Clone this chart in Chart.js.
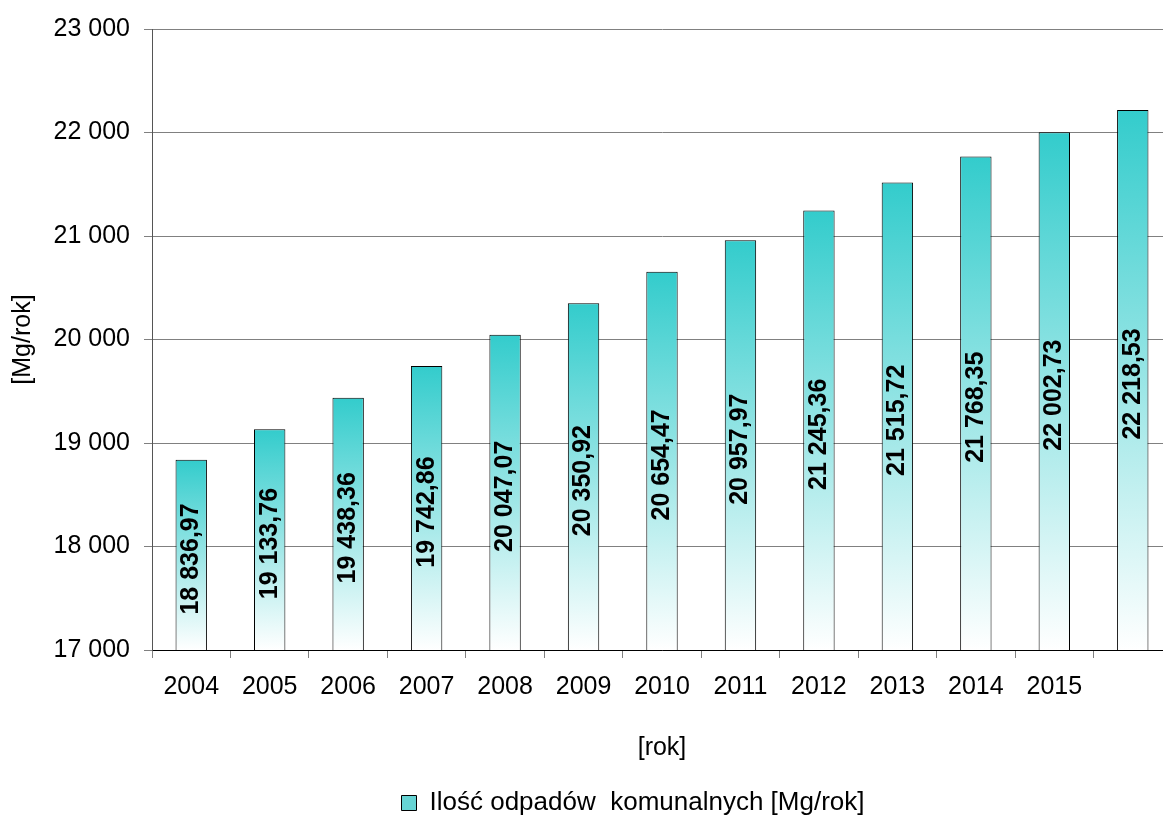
<!DOCTYPE html>
<html>
<head>
<meta charset="utf-8">
<script src="https://cdn.jsdelivr.net/npm/chart.js@4.4.0/dist/chart.umd.min.js"></script>
<style>
  html, body { margin: 0; padding: 0; background: #fff; overflow: hidden; }
  #wrap { width: 1266px; height: 827px; }
</style>
</head>
<body>
<div id="wrap"><canvas id="myChart" width="1266" height="827"></canvas></div>
<script>
// years on the x axis (last bar has no label in the original)
let years = ['2004', '2005', '2006', '2007', '2008', '2009', '2010', '2011', '2012', '2013', '2014', '2015', ''];
// amount of municipal waste [Mg/rok]
let wasteAmount = [18836.97, 19133.76, 19438.36, 19742.86, 20047.07, 20350.92, 20654.47, 20957.97, 21245.36, 21515.72, 21768.35, 22002.73, 22218.53];
let seriesName = 'Ilość odpadów  komunalnych [Mg/rok]';
let yMin = 17000;
let yMax = 23000;
let yStep = 1000;

const FONT = "'Liberation Sans', Arial, sans-serif";
Chart.defaults.font.family = FONT;
Chart.defaults.color = '#000';

//thousands with space, decimals with comma
function formatNumber(value, decimals) {
  let parts = Number(value).toFixed(decimals).split('.');
  let intPart = parts[0].replace(/\B(?=(\d{3})+(?!\d))/g, ' ');
  return parts.length > 1 ? intPart + ',' + parts[1] : intPart;
}

//gradient for each bar, teal at the top fading to white at the base
function barFill(context) {
  const chart = context.chart;
  const area = chart.chartArea;
  if (!area || context.raw === undefined) {
    return '#5fd3d3';
  }
  const top = chart.scales.y.getPixelForValue(context.raw);
  const g = chart.ctx.createLinearGradient(0, top, 0, area.bottom);
  g.addColorStop(0, '#33cccc');
  g.addColorStop(1, '#ffffff');
  return g;
}

//vertical value labels inside bars
const barLabels = {
  id: 'barLabels',
  afterDraw(chart) {
    const c = chart.ctx;
    const meta = chart.getDatasetMeta(0);
    const yScale = chart.scales.y;
    const basePx = yScale.getPixelForValue(yScale.min);
    c.save();
    c.font = 'bold 25px ' + FONT;
    c.fillStyle = '#000';
    c.textAlign = 'center';
    c.textBaseline = 'middle';
    for (let i = 0; i < meta.data.length; i++) {
      const bar = meta.data[i];
      const topPx = yScale.getPixelForValue(chart.data.datasets[0].data[i]);
      const mid = (topPx + basePx) / 2 + 4;
      c.save();
      c.translate(bar.x, mid);
      c.rotate(-Math.PI / 2);
      c.fillText(formatNumber(chart.data.datasets[0].data[i], 2), 0, 0);
      c.restore();
    }
    c.restore();
  }
};

const ctx = document.getElementById('myChart').getContext('2d');

let options = {
  type: 'bar',
  data: {
    labels: years,
    datasets: [
      {
        label: seriesName,
        data: wasteAmount,
        backgroundColor: barFill,
        borderColor: '#000',
        borderWidth: 1,
        borderSkipped: false,
        barPercentage: 0.4,
        categoryPercentage: 1.0,
        yAxisID: 'y'
      }
    ]
  },
  options: {
    responsive: false,
    devicePixelRatio: 1,
    animation: false,
    layout: { padding: { top: 20, left: 0, right: 0, bottom: 1 } },
    plugins: {
      tooltip: { enabled: false },
      legend: {
        position: 'bottom',
        labels: {
          font: { size: 26 },
          color: '#000',
          boxWidth: 15,
          boxHeight: 15,
          padding: 10,
          generateLabels: (chart) => [{
            text: seriesName,
            fillStyle: '#66d4d4',
            strokeStyle: '#000',
            lineWidth: 1,
            fontColor: '#000',
            datasetIndex: 0
          }]
        }
      }
    },
    scales: {
      x: {
        grid: {
          offset: true,
          drawOnChartArea: false,
          drawTicks: true,
          tickLength: 8,
          color: '#808080'
        },
        border: { color: '#000', width: 1 },
        ticks: { font: { size: 25 }, padding: 14, maxRotation: 0, autoSkip: false },
        title: {
          display: true,
          text: '[rok]',
          font: { size: 25 },
          padding: { top: 17, bottom: 17 }
        }
      },
      y: {
        min: yMin,
        max: yMax,
        position: 'left',
        grid: {
          color: '#808080',
          tickLength: 8
        },
        border: { color: '#555', width: 1 },
        ticks: {
          stepSize: yStep,
          font: { size: 25 },
          padding: 14,
          callback: (v) => formatNumber(v, 0)
        },
        title: {
          display: true,
          text: '[Mg/rok]',
          font: { size: 25 },
          padding: { top: 8, bottom: 8 }
        },
        afterFit(scale) { scale.width = 152; }
      },
      // empty space to the right of the plot (original chart was wider than the crop)
      yR: {
        position: 'right',
        display: true,
        grid: { display: false },
        border: { display: false },
        ticks: { display: false },
        afterFit(scale) { scale.width = 94; }
      }
    }
  },
  plugins: [barLabels]
};

const myChart = new Chart(ctx, options);
</script>
</body>
</html>
